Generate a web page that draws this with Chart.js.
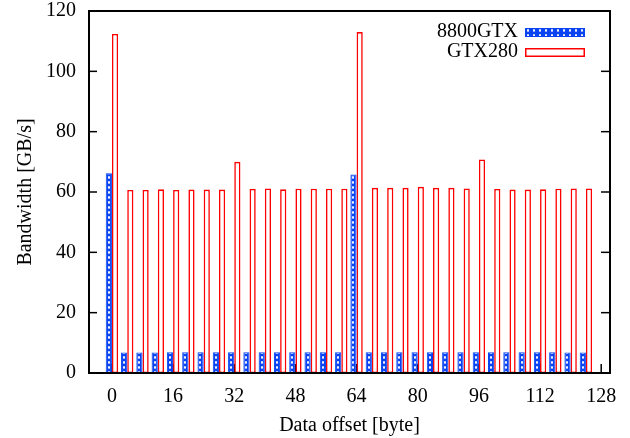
<!DOCTYPE html>
<html><head><meta charset="utf-8">
<script src="https://cdn.jsdelivr.net/npm/chart.js@4/dist/chart.umd.min.js"></script>
<style>html,body{margin:0;padding:0;background:#fff}#wrap{width:630px;height:438px}</style>
</head><body><div id="wrap"><canvas id="c" width="630" height="438"></canvas></div>
<script>
const offsets = [0,4,8,12,16,20,24,28,32,36,40,44,48,52,56,60,64,68,72,76,80,84,88,92,96,100,104,108,112,116,120,124];
const xTickLabels = [0,16,32,48,64,80,96,112,128];
const yTickLabels = [0,20,40,60,80,100,120];
const seriesNames = ['8800GTX','GTX280'];
const gtx8800 = [66.2,6.8,6.8,6.8,6.9,6.9,6.9,6.9,6.9,6.9,6.9,6.9,6.9,6.9,6.9,6.9,65.8,6.9,6.9,6.9,6.9,6.9,6.9,6.9,6.9,6.9,6.9,6.9,6.9,6.9,6.8,6.8];
const gtx280 = [112.4,60.7,60.7,60.9,60.7,60.8,60.8,60.8,70.0,61.0,61.2,60.9,61.1,61.1,61.1,61.1,113.0,61.4,61.4,61.4,61.7,61.4,61.4,61.2,70.8,61.0,60.8,60.8,60.9,61.1,61.2,61.2];

const FONT = {family: '"Liberation Serif", "Times New Roman", serif', size: 20};
const BLUE = '#0a44f2';
const RED = '#ff0000';
const CAT_PCT = 0.81;

// crosshatch-like tile
const tile = document.createElement('canvas');
tile.width = 6; tile.height = 5;
(function(){
  const t = tile.getContext('2d');
  t.fillStyle = BLUE; t.fillRect(0,0,6,5);
  t.fillStyle = '#ffffff';
  t.beginPath(); t.ellipse(3, 2.5, 1.0, 1.4, 0, 0, Math.PI*2); t.fill();
})();
function patternAt(ctx2d, left, top) {
  const p = ctx2d.createPattern(tile, 'repeat');
  p.setTransform(new DOMMatrix().translate(left, top));
  return p;
}

const canvas = document.getElementById('c');

function bluePattern(ctx) {
  const chart = ctx.chart;
  const xs = chart.scales && chart.scales.x;
  if (!xs || ctx.type !== 'data') return BLUE;
  const center = xs.getPixelForValue(offsets[ctx.dataIndex]);
  const unit = xs.getPixelForValue(offsets[1]) - xs.getPixelForValue(offsets[0]);
  const left = center - unit * CAT_PCT / 2;
  return patternAt(chart.ctx, Math.round(left), 0);
}

const framePlugin = {
  id: 'frame',
  beforeDatasetsDraw(chart) {
    const {ctx, chartArea: a, scales: {x}} = chart;
    ctx.save();
    ctx.strokeStyle = '#000'; ctx.lineWidth = 1.5;
    xTickLabels.forEach(v => {
      const px = x.getPixelForValue(v);
      ctx.beginPath(); ctx.moveTo(px, a.bottom); ctx.lineTo(px, a.bottom - 9); ctx.stroke();
    });
    ctx.restore();
  },
  afterDatasetsDraw(chart) {
    const {ctx, chartArea: a, scales: {y}} = chart;
    ctx.save();
    ctx.strokeStyle = '#000'; ctx.lineWidth = 1.5;
    yTickLabels.forEach(v => {
      const py = y.getPixelForValue(v);
      ctx.beginPath(); ctx.moveTo(a.left, py); ctx.lineTo(a.left + 8, py); ctx.stroke();
      ctx.beginPath(); ctx.moveTo(a.right, py); ctx.lineTo(a.right - 9, py); ctx.stroke();
    });
    ctx.lineWidth = 2;
    ctx.strokeRect(a.left, a.top, a.right - a.left, a.bottom - a.top);
    // legend
    ctx.font = FONT.size + 'px ' + FONT.family;
    ctx.fillStyle = '#000'; ctx.textAlign = 'right'; ctx.textBaseline = 'middle';
    const rows = [{y: 32}, {y: 52}];
    const textX = 518, bx = 525, bw = 60, bh = 9;
    seriesNames.forEach((n, i) => {
      const cy = rows[i].y;
      ctx.fillStyle = '#000';
      ctx.fillText(n, textX, cy);
      const by = Math.round(cy - bh/2);
      const ds = chart.data.datasets[i];
      if (i === 0) {
        ctx.fillStyle = patternAt(ctx, bx, by);
        ctx.fillRect(bx, by, bw, bh);
        ctx.strokeStyle = ds.borderColor; ctx.lineWidth = 1;
        ctx.strokeRect(bx + 0.5, by + 0.5, bw - 1, bh - 1);
      } else {
        ctx.fillStyle = '#fff';
        ctx.fillRect(bx, by, bw, bh);
        ctx.strokeStyle = ds.borderColor; ctx.lineWidth = 1.5;
        ctx.strokeRect(bx + 0.75, by + 0.75, bw - 1.5, bh - 1.5);
      }
    });
    ctx.restore();
  }
};

new Chart(canvas, {
  type: 'bar',
  data: {
    datasets: [
      {label: seriesNames[0], data: offsets.map((o, i) => ({x: o, y: gtx8800[i]})),
       backgroundColor: bluePattern, borderColor: BLUE, borderWidth: 1, borderSkipped: false},
      {label: seriesNames[1], data: offsets.map((o, i) => ({x: o, y: gtx280[i]})),
       backgroundColor: '#ffffff', borderColor: RED, borderWidth: 1.6, borderSkipped: false}
    ]
  },
  options: {
    responsive: false, animation: false, devicePixelRatio: 1,
    categoryPercentage: CAT_PCT, barPercentage: 1.0,
    layout: {padding: {top: 11, right: 20, left: 0, bottom: 0}},
    plugins: {legend: {display: false}, tooltip: {enabled: false}},
    scales: {
      x: {
        type: 'linear', min: -6, max: 130.3, offset: false,
        afterBuildTicks(s) { s.ticks = xTickLabels.map(v => ({value: v})); },
        afterFit(s) { s.height = 65; s.paddingLeft = 0; s.paddingRight = 0; },
        grid: {display: false, drawTicks: false, offset: false},
        border: {display: false},
        ticks: {font: FONT, color: '#000', padding: 12, maxRotation: 0, autoSkip: false, callback: v => String(v)},
        title: {display: true, text: 'Data offset [byte]', font: FONT, color: '#000', padding: {top: 0, bottom: 0}}
      },
      y: {
        min: 0, max: 120,
        afterBuildTicks(s) { s.ticks = yTickLabels.map(v => ({value: v})); },
        afterFit(s) { s.width = 89; s.paddingTop = 0; s.paddingBottom = 0; },
        grid: {display: false, drawTicks: false},
        border: {display: false},
        ticks: {font: FONT, color: '#000', padding: 13, callback: v => String(v)},
        title: {display: true, text: 'Bandwidth [GB/s]', font: FONT, color: '#000', padding: {top: 14, bottom: 0}}
      }
    }
  },
  plugins: [framePlugin]
});
</script></body></html>
